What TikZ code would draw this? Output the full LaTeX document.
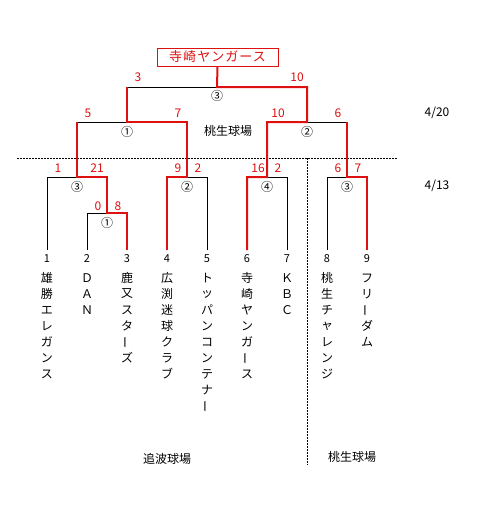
\documentclass[tikz,border=0pt]{standalone}
\usepackage{fontspec}
\usepackage{graphicx}
\setmainfont{Noto Sans CJK JP}
\definecolor{wred}{RGB}{222,16,16}
\newcommand\chobar{\rotatebox[origin=c]{90}{ー}}
\newcommand\vname[3]{%
  \foreach \ch [count=\k] in {#3} {\node[namech] (#1-\k) at (#2,{262+16*\k}) {\ch};}%
}
\tikzset{
  blk/.style={line width=1pt, black},
  rln/.style={line width=2pt, wred, line join=miter},
  score/.style={text=wred, font=\fontsize{12pt}{14pt}\selectfont, inner sep=0pt},
  circ/.style={font=\fontsize{12pt}{14pt}\selectfont, inner sep=0pt},
  namech/.style={font=\fontsize{12pt}{14pt}\selectfont, inner sep=0pt},
  tnum/.style={font=\fontsize{11pt}{13pt}\selectfont, inner sep=0pt},
  lbl/.style={font=\fontsize{12pt}{14pt}\selectfont, inner sep=0pt},
  dot/.style={line width=1pt, dash pattern=on 1.5pt off 1.5pt},
}
\begin{document}
\begin{tikzpicture}[x=1pt, y=-1pt]
\useasboundingbox (0,0) rectangle (495,531);
% team tops
\coordinate (t1) at (47,250);
\coordinate (t2) at (87,250);
\coordinate (t3) at (127,250);
\coordinate (t4) at (167,250);
\coordinate (t5) at (207,250);
\coordinate (t6) at (247,250);
\coordinate (t7) at (287,250);
\coordinate (t8) at (327,250);
\coordinate (t9) at (367,250);
% match centres
\coordinate (mA) at (107,213);
\coordinate (mB) at (77,177);
\coordinate (mC) at (187,177);
\coordinate (mD) at (267,177);
\coordinate (mE) at (347,177);
\coordinate (mF) at (127,122);
\coordinate (mG) at (307,122);
\coordinate (mH) at (217,87);
% champion box
\node[draw=wred, line width=1pt, text=wred, minimum width=121pt, minimum height=18pt, inner sep=0pt,
      font=\fontsize{13pt}{15pt}\selectfont\addfontfeature{LetterSpace=8}] (champ) at (217.5,57) {寺崎ヤンガース};
% dotted separators
\coordinate (dl) at (17,158);
\coordinate (dr) at (398,158);
\coordinate (dv) at (307,158);
\coordinate (db) at (307,465);
\draw[dot] (dl) -- (dr);
\draw[dot] (dv) -- (db);
% black bracket lines
\draw[blk] (t1) |- (mB);
\draw[blk] (t2) |- (mA);
\draw[blk] (t5) |- (mC);
\draw[blk] (t7) |- (mD);
\draw[blk] (t8) |- (mE);
\draw[blk] (mB |- mF) -- (mF);
\draw[blk] (mG) -- (mE |- mG);
\draw[blk] (mF |- mH) -- (mH);
% red winner paths
\draw[rln] (t3) |- (mA) |- (mB) -- (mB |- mF);
\draw[rln] (t4) |- (mC) |- (mF) -- (mF |- mH);
\draw[rln] (t6) |- (mD) |- (mG) |- (mH) -- (champ.south);
\draw[rln] (t9) |- (mE) -- (mE |- mG);
% circled match numbers
\node[circ] (cH) at (217,96) {③};
\node[circ] (cF) at (127,132) {①};
\node[circ] (cG) at (307,132) {②};
\node[circ] (cB) at (77,187) {③};
\node[circ] (cA) at (107,223) {①};
\node[circ] (cC) at (187,187) {②};
\node[circ] (cD) at (267,187) {④};
\node[circ] (cE) at (347,187) {③};
% scores
\node[score] (sH1) at (138,77) {3};
\node[score] (sH2) at (297,77) {10};
\node[score] (sF1) at (88,113) {5};
\node[score] (sF2) at (178,113) {7};
\node[score] (sG1) at (278,113) {10};
\node[score] (sG2) at (338,113) {6};
\node[score] (sB1) at (58,168) {1};
\node[score] (sB2) at (97,168) {21};
\node[score] (sC1) at (178,168) {9};
\node[score] (sC2) at (198,168) {2};
\node[score] (sD1) at (258,168) {16};
\node[score] (sD2) at (278,168) {2};
\node[score] (sE1) at (338,168) {6};
\node[score] (sE2) at (358,168) {7};
\node[score] (sA1) at (98,206) {0};
\node[score] (sA2) at (118,206) {8};
% venue and dates
\node[lbl] (v1) at (228,131) {桃生球場};
\node[lbl] (d1) at (437,113) {4/20};
\node[lbl] (d2) at (437,186) {4/13};
\node[lbl] (v2) at (167,459) {追波球場};
\node[lbl] (v3) at (352,457) {桃生球場};
% team numbers
\node[tnum] (n1) at (47,259) {1};
\node[tnum] (n2) at (87,259) {2};
\node[tnum] (n3) at (127,259) {3};
\node[tnum] (n4) at (167,259) {4};
\node[tnum] (n5) at (207,259) {5};
\node[tnum] (n6) at (247,259) {6};
\node[tnum] (n7) at (287,259) {7};
\node[tnum] (n8) at (327,259) {8};
\node[tnum] (n9) at (367,259) {9};
% team names (vertical)
\vname{a}{47}{雄,勝,エ,レ,ガ,ン,ス}
\vname{b}{87}{Ｄ,Ａ,Ｎ}
\vname{c}{127}{鹿,又,ス,タ,\chobar,ズ}
\vname{d}{167}{広,渕,迷,球,ク,ラ,ブ}
\vname{e}{207}{ト,ッ,パ,ン,コ,ン,テ,ナ,\chobar}
\vname{f}{247}{寺,崎,ヤ,ン,ガ,\chobar,ス}
\vname{g}{287}{Ｋ,Ｂ,Ｃ}
\vname{h}{327}{桃,生,チ,ャ,レ,ン,ジ}
\vname{i}{367}{フ,リ,\chobar,ダ,ム}
\end{tikzpicture}
\end{document}
